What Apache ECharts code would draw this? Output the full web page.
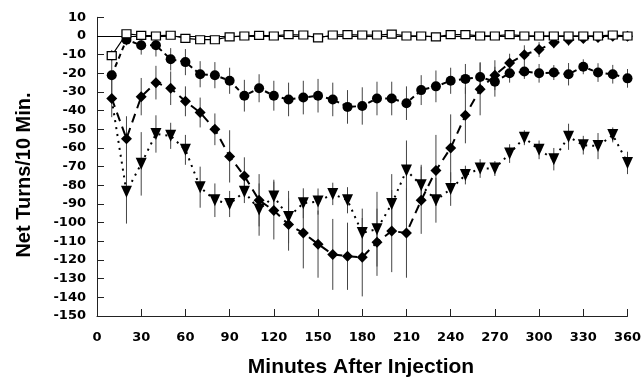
<!DOCTYPE html>
<html>
<head>
<meta charset="utf-8">
<script src="https://cdn.jsdelivr.net/npm/echarts@6/dist/echarts.min.js"></script>
<style>html,body{margin:0;padding:0;background:#fff;}#c{width:643px;height:377px;}</style>
</head>
<body>
<div id="c"></div>
<script>
const times = [10,20,30,40,50,60,70,80,90,100,110,120,130,140,150,160,170,180,190,200,210,220,230,240,250,260,270,280,290,300,310,320,330,340,350,360];
const xTicks = [0,30,60,90,120,150,180,210,240,270,300,330,360];
const yTicks = [10,0,-10,-20,-30,-40,-50,-60,-70,-80,-90,-100,-110,-120,-130,-140,-150];

const squareVals = [-10.5,1.2,0.3,0,0.4,-1.3,-2,-2,-0.5,0,0.3,0,0.7,0.5,-1,0.5,0.7,0.5,0.5,1,0,0,-0.5,0.7,0.7,0,0,0.7,0,0,0,0,0,0,0.5,0];
const squareErr  = [3,1,1,1,1,1,1,1,1,1,1,1,1,1,1,1,1,1,1,1,1,1,1,1,1,1,1,1,1,1,1,1,1,1,1,1];

const circleVals = [-21,-2,-5,-5,-12.5,-14,-20.5,-21,-24,-32,-28,-32,-34,-33,-32,-34,-38,-37.5,-33.5,-33.5,-36,-29,-27,-24,-23,-22,-24.5,-20,-19,-20,-19.6,-20.5,-16.5,-19.6,-20.5,-22.7];
const circleErr  = [11,3,5,6,6,7,7,7,7,8.5,7.5,8,9,9,9,9,9,10,9,9,9,8,8.5,7,8,8,8,5,4,5,4,6,4,5,5,5];

const diamondVals = [-33.5,-55,-32.5,-25,-28,-35,-41,-50,-64.5,-75,-88,-93.5,-101,-105.5,-111.5,-117,-118,-118.5,-110.5,-104.5,-105.5,-88,-72,-60,-42.5,-28.5,-21,-14.5,-10,-7.3,-3.6,-2.2,-1.3,-0.8,-0.2,-0.2];
const diamondErr  = [10,12,10,9,9,8,8,8.5,14,10,14,15.5,14,19,18,19,18,21,18,22,24,18,19,18,15,14,8,5,5,4,3,3,2,2,2,2];

const triangleVals = [-34,-83.5,-68.5,-52.5,-53.5,-61,-81,-88,-90,-83.5,-93,-86,-97,-89.6,-88.7,-84.6,-88,-105.5,-103.5,-90,-72,-80,-88,-82,-74.5,-71,-71,-63,-54.5,-61,-66,-54,-58.5,-59,-53,-68];
const triangleErr  = [0,17,17,10,7,8,11,9,7,6,14,9,14,8,7,6,7,13,20,16,16,11,12,9,5,5,4,5,4,5,6,7,5,7,4,6];

function pairs(vals, hideFirst) {
  return times.map((t, i) => {
    if (hideFirst && i === 0) return { value: [t, vals[i]], symbol: 'none' };
    return [t, vals[i]];
  });
}
function errData(vals, errs) {
  return times.map((t, i) => [t, vals[i] - errs[i], vals[i] + errs[i]]).filter((d, i) => errs[i] > 0);
}
function errSeries(vals, errs) {
  return {
    type: 'custom',
    silent: true,
    z: 1,
    data: errData(vals, errs),
    renderItem: function (params, api) {
      const p1 = api.coord([api.value(0), api.value(1)]);
      const p2 = api.coord([api.value(0), api.value(2)]);
      return {
        type: 'line',
        shape: { x1: p1[0], y1: p1[1], x2: p2[0], y2: p2[1] },
        style: { stroke: '#444', lineWidth: 1 }
      };
    }
  };
}

const tickFont = { color: '#000', fontFamily: 'DejaVu Sans', fontWeight: 'bold', fontSize: 13 };

const chart = echarts.init(document.getElementById('c'), null, { renderer: 'canvas' });
chart.setOption({
  animation: false,
  backgroundColor: '#fff',
  grid: { left: 97, right: 15.5, top: 17.3, bottom: 61, containLabel: false, outerBoundsMode: 'none' },
  xAxis: {
    type: 'value', min: xTicks[0], max: xTicks[xTicks.length - 1], interval: 30,
    axisLine: { show: true, onZero: false, lineStyle: { color: '#222', width: 1 } },
    axisTick: { show: true, inside: true, length: 7, lineStyle: { color: '#222' } },
    splitLine: { show: false },
    axisLabel: Object.assign({ margin: 15 }, tickFont)
  },
  yAxis: {
    type: 'value', min: yTicks[yTicks.length - 1], max: yTicks[0], interval: 10,
    axisLine: { show: true, onZero: false, lineStyle: { color: '#222', width: 1 } },
    axisTick: { show: true, inside: true, length: 7, lineStyle: { color: '#222' } },
    splitLine: { show: false },
    axisLabel: Object.assign({ margin: 11 }, tickFont)
  },
  graphic: [
    {
      type: 'text', x: 24.5, y: 175, rotation: Math.PI / 2,
      style: { text: 'Net Turns/10 Min.', fill: '#000', font: 'bold 20px "Liberation Sans"', textAlign: 'center', textVerticalAlign: 'middle' }
    },
    {
      type: 'text', x: 361, y: 367,
      style: { text: 'Minutes After Injection', fill: '#000', font: 'bold 21px "Liberation Sans"', textAlign: 'center', textVerticalAlign: 'middle' }
    }
  ],
  series: [
    errSeries(squareVals, squareErr),
    errSeries(circleVals, circleErr),
    errSeries(diamondVals, diamondErr),
    errSeries(triangleVals, triangleErr),
    {
      type: 'line', data: pairs(triangleVals, true), z: 3,
      symbol: 'triangle', symbolRotate: 180, symbolSize: [11, 12], showAllSymbol: true,
      itemStyle: { color: '#000' },
      lineStyle: { color: '#000', width: 2, type: [2, 5] }
    },
    {
      type: 'line', data: pairs(diamondVals, false), z: 4,
      symbol: 'diamond', symbolSize: 11, showAllSymbol: true,
      itemStyle: { color: '#000' },
      lineStyle: { color: '#000', width: 2, type: [9, 6] }
    },
    {
      type: 'line', data: pairs(circleVals, false), z: 5,
      symbol: 'circle', symbolSize: 10, showAllSymbol: true,
      itemStyle: { color: '#000' },
      lineStyle: { color: '#000', width: 2, type: [5, 4] }
    },
    {
      type: 'line', data: pairs(squareVals, false), z: 6,
      symbol: 'rect', symbolSize: [9, 8], showAllSymbol: true,
      itemStyle: { color: '#fff', borderColor: '#000', borderWidth: 1.2 },
      lineStyle: { color: '#000', width: 1.2, type: 'solid' },
      markLine: {
        silent: true, symbol: 'none', label: { show: false },
        lineStyle: { color: '#000', type: 'solid', width: 1 },
        data: [{ yAxis: 0 }]
      }
    }
  ]
});
</script>
</body>
</html>
